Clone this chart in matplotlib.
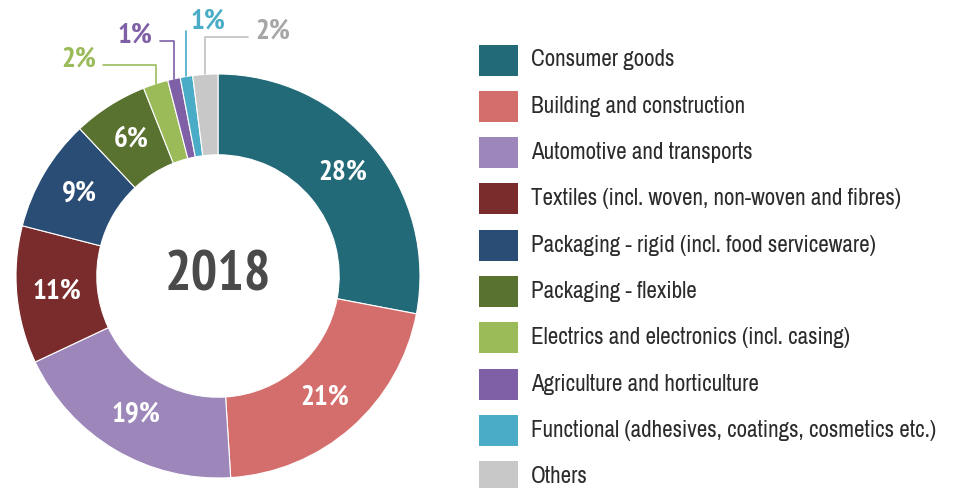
import matplotlib.pyplot as plt
from matplotlib.patches import Rectangle
import numpy as np

plt.rcParams['font.family'] = ['Archivo Narrow', 'Roboto Condensed', 'DejaVu Sans']
bold_font = ['PT Sans Narrow', 'Fira Sans Condensed', 'Roboto Condensed', 'DejaVu Sans']

categories = ['Consumer goods', 'Building and construction', 'Automotive and transports',
              'Textiles (incl. woven, non-woven and fibres)',
              'Packaging - rigid (incl. food serviceware)', 'Packaging - flexible',
              'Electrics and electronics (incl. casing)', 'Agriculture and horticulture',
              'Functional (adhesives, coatings, cosmetics etc.)', 'Others']
shares = [28, 21, 19, 11, 9, 6, 2, 1, 1, 2]
colors = ['#236a78', '#d46e6c', '#9d86b9', '#7a2b2b', '#2a4d76',
          '#5a7230', '#9bbb59', '#7f60a6', '#4aacc6', '#c8c8c8']
year = '2018'

W, H = 958, 488
fig = plt.figure(figsize=(W / 100, H / 100), dpi=100)

# donut
cx, cy, R = 218, 276, 202
ax = fig.add_axes([(cx - R) / W, (H - cy - R) / H, 2 * R / W, 2 * R / H])
wedges, _ = ax.pie(shares, colors=colors, startangle=90, counterclock=False,
                   radius=1, wedgeprops=dict(width=0.4, edgecolor='white', linewidth=0.8))
ax.set_xlim(-1, 1)
ax.set_ylim(-1, 1)
ax.set_aspect('equal')
ax.axis('off')

ax.text(0, 0, year, ha='center', va='center', fontsize=40, fontweight='bold',
        color='#4a4a4a', family=bold_font)

# outside label offsets for the small slices (in radius units)
outside = {6: (-0.69, 1.07, 'right'), 7: (-0.41, 1.19, 'right'),
           8: (-0.05, 1.26, 'left'), 9: (0.27, 1.21, 'left')}

cum = np.cumsum([0] + shares)
for i, v in enumerate(shares):
    mid = (cum[i] + cum[i + 1]) / 2 / 100.0
    ang = np.deg2rad(90 - 360 * mid)
    if i in outside:
        tx, ty, side = outside[i]
        ex, ey = np.cos(ang) * 1.0, np.sin(ang) * 1.0
        ax.annotate(f'{v}%', xy=(ex, ey), xytext=(tx, ty), ha='center', va='center',
                    fontsize=21, fontweight='bold', family=bold_font,
                    color=colors[i] if i != 9 else '#a6a6a6',
                    annotation_clip=False,
                    arrowprops=dict(arrowstyle='-', color=colors[i] if i != 9 else '#c0c0c0',
                                    lw=1.2, shrinkA=3, shrinkB=0,
                                    relpos=(1, 0.3) if side == 'right' else (0, 0.3),
                                    connectionstyle='angle,angleA=0,angleB=90,rad=0'))
    else:
        r = 0.8
        ax.text(np.cos(ang) * r, np.sin(ang) * r, f'{v}%', ha='center', va='center',
                fontsize=21, fontweight='bold', color='white', family=bold_font)

# legend
lax = fig.add_axes([0, 0, 1, 1])
lax.set_xlim(0, W)
lax.set_ylim(H, 0)
lax.axis('off')
y0, pitch = 60, 46.3
for i, (name, c) in enumerate(zip(categories, colors)):
    y = y0 + i * pitch
    lax.add_patch(Rectangle((479, y - 15.5), 39, 31, facecolor=c, edgecolor='none'))
    lax.text(531, y, name, ha='left', va='center', fontsize=16.6, color='#2b2b2b')

fig.savefig('out.png', dpi=100)
